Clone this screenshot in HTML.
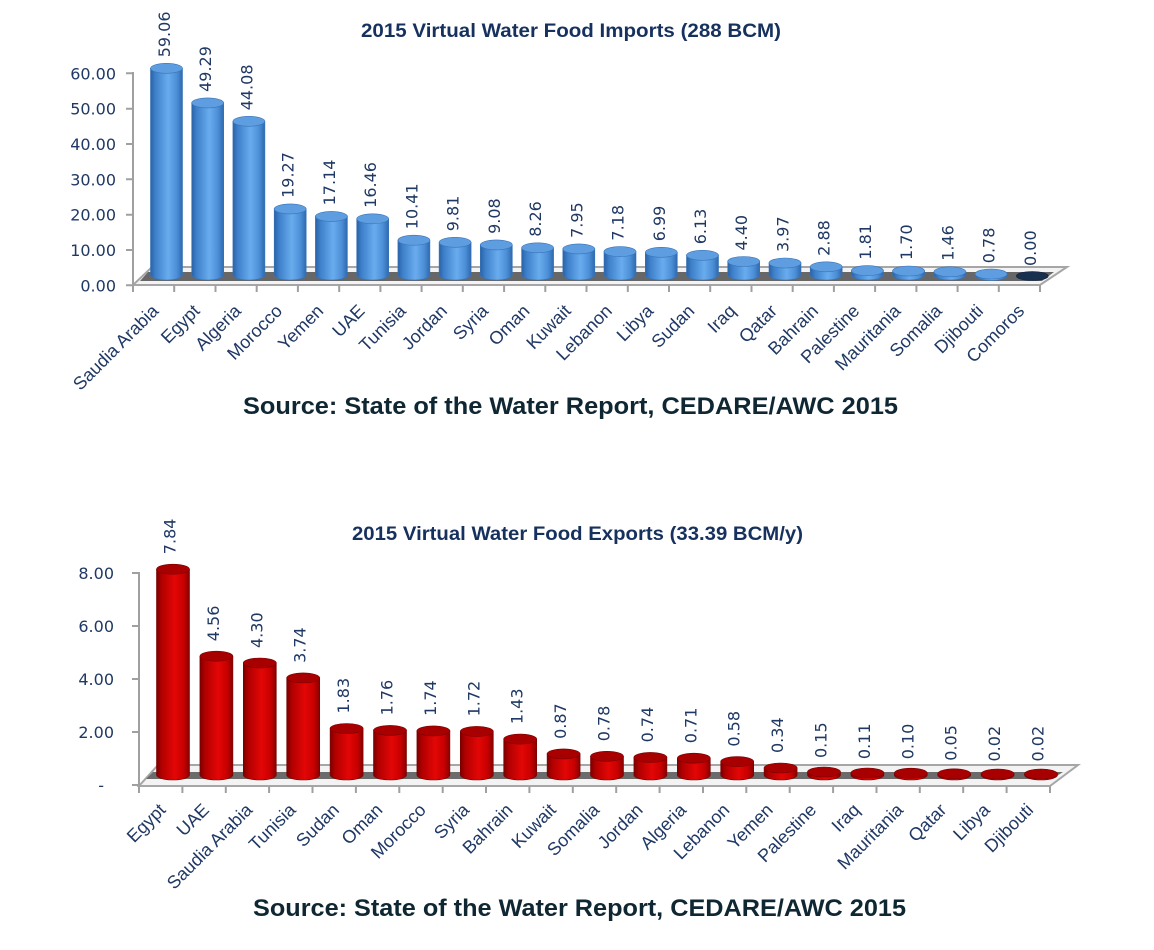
<!DOCTYPE html>
<html><head><meta charset="utf-8"><style>
html,body{margin:0;padding:0;background:#fff;}
svg{display:block;}
.ax{font-family:"DejaVu Sans",sans-serif;font-size:16px;fill:#1f3864;}
.dl{font-family:"DejaVu Sans",sans-serif;font-size:16px;fill:#1f3864;}
.cat{font-family:"Liberation Sans",sans-serif;font-size:18px;fill:#1f3864;}
.ttl{font-family:"Liberation Sans",sans-serif;font-size:19px;font-weight:bold;fill:#17315e;}
.src{font-family:"Liberation Sans",sans-serif;font-size:24px;font-weight:bold;fill:#0f2733;}
</style></head><body>
<svg width="1154" height="950" viewBox="0 0 1154 950" xmlns="http://www.w3.org/2000/svg">
<defs>
<linearGradient id="gb" x1="0" x2="1" y1="0" y2="0">
<stop offset="0" stop-color="#2a62a6"/><stop offset="0.15" stop-color="#3d7fc9"/><stop offset="0.55" stop-color="#69acee"/><stop offset="0.82" stop-color="#4c8fd7"/><stop offset="1" stop-color="#2e69ae"/>
</linearGradient>
<linearGradient id="gr" x1="0" x2="1" y1="0" y2="0">
<stop offset="0" stop-color="#7a0000"/><stop offset="0.15" stop-color="#b00000"/><stop offset="0.55" stop-color="#e30606"/><stop offset="0.82" stop-color="#c80000"/><stop offset="1" stop-color="#860000"/>
</linearGradient>
</defs>
<rect width="1154" height="950" fill="#fff"/>

<!-- ============ TOP CHART ============ -->
<text class="ttl" x="571" y="37" text-anchor="middle" textLength="420" lengthAdjust="spacingAndGlyphs">2015 Virtual Water Food Imports (288 BCM)</text>

<polygon points="133,285 1040,285 1067,267 152,267" fill="#f3f3f3" stroke="#a6a6a6" stroke-width="2"/>
<polygon points="140,281 1042,281 1054,272 148,272" fill="#676767"/>

<g stroke="#3a74b8" stroke-width="0.6">
<path d="M150.5,68.3 L150.5,275 A16,5 0 0 0 182.5,275 L182.5,68.3 Z" fill="url(#gb)"/><ellipse cx="166.5" cy="68.3" rx="16" ry="5" fill="#5d9de0"/>
<path d="M191.7,102.9 L191.7,275 A16,5 0 0 0 223.7,275 L223.7,102.9 Z" fill="url(#gb)"/><ellipse cx="207.7" cy="102.9" rx="16" ry="5" fill="#5d9de0"/>
<path d="M232.9,121.3 L232.9,275 A16,5 0 0 0 264.9,275 L264.9,121.3 Z" fill="url(#gb)"/><ellipse cx="248.9" cy="121.3" rx="16" ry="5" fill="#5d9de0"/>
<path d="M274.2,208.9 L274.2,275 A16,5 0 0 0 306.2,275 L306.2,208.9 Z" fill="url(#gb)"/><ellipse cx="290.2" cy="208.9" rx="16" ry="5" fill="#5d9de0"/>
<path d="M315.4,216.4 L315.4,275 A16,5 0 0 0 347.4,275 L347.4,216.4 Z" fill="url(#gb)"/><ellipse cx="331.4" cy="216.4" rx="16" ry="5" fill="#5d9de0"/>
<path d="M356.7,218.8 L356.7,275 A16,5 0 0 0 388.7,275 L388.7,218.8 Z" fill="url(#gb)"/><ellipse cx="372.7" cy="218.8" rx="16" ry="5" fill="#5d9de0"/>
<path d="M397.9,240.2 L397.9,275 A16,5 0 0 0 429.9,275 L429.9,240.2 Z" fill="url(#gb)"/><ellipse cx="413.9" cy="240.2" rx="16" ry="5" fill="#5d9de0"/>
<path d="M439.1,242.3 L439.1,275 A16,5 0 0 0 471.1,275 L471.1,242.3 Z" fill="url(#gb)"/><ellipse cx="455.1" cy="242.3" rx="16" ry="5" fill="#5d9de0"/>
<path d="M480.3,244.9 L480.3,275 A16,5 0 0 0 512.3,275 L512.3,244.9 Z" fill="url(#gb)"/><ellipse cx="496.3" cy="244.9" rx="16" ry="5" fill="#5d9de0"/>
<path d="M521.6,247.8 L521.6,275 A16,5 0 0 0 553.6,275 L553.6,247.8 Z" fill="url(#gb)"/><ellipse cx="537.6" cy="247.8" rx="16" ry="5" fill="#5d9de0"/>
<path d="M562.8,248.9 L562.8,275 A16,5 0 0 0 594.8,275 L594.8,248.9 Z" fill="url(#gb)"/><ellipse cx="578.8" cy="248.9" rx="16" ry="5" fill="#5d9de0"/>
<path d="M604,251.6 L604,275 A16,5 0 0 0 636,275 L636,251.6 Z" fill="url(#gb)"/><ellipse cx="620" cy="251.6" rx="16" ry="5" fill="#5d9de0"/>
<path d="M645.3,252.3 L645.3,275 A16,5 0 0 0 677.3,275 L677.3,252.3 Z" fill="url(#gb)"/><ellipse cx="661.3" cy="252.3" rx="16" ry="5" fill="#5d9de0"/>
<path d="M686.5,255.3 L686.5,275 A16,5 0 0 0 718.5,275 L718.5,255.3 Z" fill="url(#gb)"/><ellipse cx="702.5" cy="255.3" rx="16" ry="5" fill="#5d9de0"/>
<path d="M727.7,261.5 L727.7,275 A16,5 0 0 0 759.7,275 L759.7,261.5 Z" fill="url(#gb)"/><ellipse cx="743.7" cy="261.5" rx="16" ry="5" fill="#5d9de0"/>
<path d="M769,263 L769,275 A16,5 0 0 0 801,275 L801,263 Z" fill="url(#gb)"/><ellipse cx="785" cy="263" rx="16" ry="5" fill="#5d9de0"/>
<path d="M810.2,266.8 L810.2,275 A16,5 0 0 0 842.2,275 L842.2,266.8 Z" fill="url(#gb)"/><ellipse cx="826.2" cy="266.8" rx="16" ry="5" fill="#5d9de0"/>
<path d="M851.4,270.6 L851.4,275 A16,5 0 0 0 883.4,275 L883.4,270.6 Z" fill="url(#gb)"/><ellipse cx="867.4" cy="270.6" rx="16" ry="5" fill="#5d9de0"/>
<path d="M892.6,271 L892.6,275 A16,5 0 0 0 924.6,275 L924.6,271 Z" fill="url(#gb)"/><ellipse cx="908.6" cy="271" rx="16" ry="5" fill="#5d9de0"/>
<path d="M933.9,271.8 L933.9,275 A16,5 0 0 0 965.9,275 L965.9,271.8 Z" fill="url(#gb)"/><ellipse cx="949.9" cy="271.8" rx="16" ry="5" fill="#5d9de0"/>
<path d="M975.1,274 L975.1,275.5 A16,5 0 0 0 1007.1,275.5 L1007.1,274 Z" fill="url(#gb)"/><ellipse cx="991.1" cy="274" rx="16" ry="5" fill="#5d9de0"/>
<ellipse cx="1032.3" cy="276" rx="16" ry="4.5" fill="#17304f" stroke="#10243d"/>
</g>

<g stroke="#a0a0a0" stroke-width="2" fill="none">
<line x1="133" y1="72" x2="133" y2="286"/>
<path d="M126,73.3H133M126,108.7H133M126,144H133M126,179.3H133M126,214.7H133M126,250H133M126,285.3H133"/>
<path d="M133,285V292M174.2,285V292M215.5,285V292M256.7,285V292M297.9,285V292M339.2,285V292M380.4,285V292M421.6,285V292M462.8,285V292M504.1,285V292M545.3,285V292M586.5,285V292M627.8,285V292M669,285V292M710.2,285V292M751.5,285V292M792.7,285V292M833.9,285V292M875.1,285V292M916.4,285V292M957.6,285V292M998.8,285V292M1040,285V292"/>
</g>
<g class="ax" text-anchor="end">
<text x="116" y="79.3">60.00</text>
<text x="116" y="114.7">50.00</text>
<text x="116" y="150">40.00</text>
<text x="116" y="185.3">30.00</text>
<text x="116" y="220.7">20.00</text>
<text x="116" y="256">10.00</text>
<text x="116" y="291.3">0.00</text>
</g>

<g class="dl" dominant-baseline="central">
<text x="164.5" y="57.3" transform="rotate(-90 164.5 57.3)">59.06</text>
<text x="205.7" y="91.9" transform="rotate(-90 205.7 91.9)">49.29</text>
<text x="246.9" y="110.3" transform="rotate(-90 246.9 110.3)">44.08</text>
<text x="288.2" y="197.9" transform="rotate(-90 288.2 197.9)">19.27</text>
<text x="329.4" y="205.4" transform="rotate(-90 329.4 205.4)">17.14</text>
<text x="370.7" y="207.8" transform="rotate(-90 370.7 207.8)">16.46</text>
<text x="411.9" y="229.2" transform="rotate(-90 411.9 229.2)">10.41</text>
<text x="453.1" y="231.3" transform="rotate(-90 453.1 231.3)">9.81</text>
<text x="494.3" y="233.9" transform="rotate(-90 494.3 233.9)">9.08</text>
<text x="535.6" y="236.8" transform="rotate(-90 535.6 236.8)">8.26</text>
<text x="576.8" y="237.9" transform="rotate(-90 576.8 237.9)">7.95</text>
<text x="618" y="240.6" transform="rotate(-90 618 240.6)">7.18</text>
<text x="659.3" y="241.3" transform="rotate(-90 659.3 241.3)">6.99</text>
<text x="700.5" y="244.3" transform="rotate(-90 700.5 244.3)">6.13</text>
<text x="741.7" y="250.5" transform="rotate(-90 741.7 250.5)">4.40</text>
<text x="783" y="252" transform="rotate(-90 783 252)">3.97</text>
<text x="824.2" y="255.8" transform="rotate(-90 824.2 255.8)">2.88</text>
<text x="865.4" y="259.6" transform="rotate(-90 865.4 259.6)">1.81</text>
<text x="906.6" y="260" transform="rotate(-90 906.6 260)">1.70</text>
<text x="947.9" y="260.8" transform="rotate(-90 947.9 260.8)">1.46</text>
<text x="989.1" y="263.2" transform="rotate(-90 989.1 263.2)">0.78</text>
<text x="1030.3" y="266" transform="rotate(-90 1030.3 266)">0.00</text>
</g>

<g class="cat" text-anchor="end">
<text x="159.6" y="312" transform="rotate(-45 159.6 312)">Saudia Arabia</text>
<text x="200.8" y="312" transform="rotate(-45 200.8 312)">Egypt</text>
<text x="242.1" y="312" transform="rotate(-45 242.1 312)">Algeria</text>
<text x="283.3" y="312" transform="rotate(-45 283.3 312)">Morocco</text>
<text x="324.5" y="312" transform="rotate(-45 324.5 312)">Yemen</text>
<text x="365.8" y="312" transform="rotate(-45 365.8 312)">UAE</text>
<text x="407" y="312" transform="rotate(-45 407 312)">Tunisia</text>
<text x="448.2" y="312" transform="rotate(-45 448.2 312)">Jordan</text>
<text x="489.4" y="312" transform="rotate(-45 489.4 312)">Syria</text>
<text x="530.7" y="312" transform="rotate(-45 530.7 312)">Oman</text>
<text x="571.9" y="312" transform="rotate(-45 571.9 312)">Kuwait</text>
<text x="613.1" y="312" transform="rotate(-45 613.1 312)">Lebanon</text>
<text x="654.4" y="312" transform="rotate(-45 654.4 312)">Libya</text>
<text x="695.6" y="312" transform="rotate(-45 695.6 312)">Sudan</text>
<text x="736.8" y="312" transform="rotate(-45 736.8 312)">Iraq</text>
<text x="778.1" y="312" transform="rotate(-45 778.1 312)">Qatar</text>
<text x="819.3" y="312" transform="rotate(-45 819.3 312)">Bahrain</text>
<text x="860.5" y="312" transform="rotate(-45 860.5 312)">Palestine</text>
<text x="901.7" y="312" transform="rotate(-45 901.7 312)">Mauritania</text>
<text x="943" y="312" transform="rotate(-45 943 312)">Somalia</text>
<text x="984.2" y="312" transform="rotate(-45 984.2 312)">Djibouti</text>
<text x="1025.4" y="312" transform="rotate(-45 1025.4 312)">Comoros</text>
</g>

<text class="src" x="570.5" y="414" text-anchor="middle" textLength="655" lengthAdjust="spacingAndGlyphs">Source: State of the Water Report, CEDARE/AWC 2015</text>

<!-- ============ BOTTOM CHART ============ -->
<text class="ttl" x="577.5" y="540" text-anchor="middle" textLength="451" lengthAdjust="spacingAndGlyphs">2015 Virtual Water Food Exports (33.39 BCM/y)</text>

<polygon points="139,786 1050,786 1078,765 158,765" fill="#f3f3f3" stroke="#a6a6a6" stroke-width="2"/>
<polygon points="146,779 1052,779 1063,772 153,772" fill="#6b6b6b"/>

<g stroke="#7a0000" stroke-width="0.6">
<path d="M156.5,569.2 L156.5,775 A16.5,5 0 0 0 189.5,775 L189.5,569.2 Z" fill="url(#gr)"/><ellipse cx="173" cy="569.2" rx="16.5" ry="5" fill="#a80000"/>
<path d="M199.9,656.2 L199.9,775 A16.5,5 0 0 0 232.9,775 L232.9,656.2 Z" fill="url(#gr)"/><ellipse cx="216.4" cy="656.2" rx="16.5" ry="5" fill="#a80000"/>
<path d="M243.3,663 L243.3,775 A16.5,5 0 0 0 276.3,775 L276.3,663 Z" fill="url(#gr)"/><ellipse cx="259.8" cy="663" rx="16.5" ry="5" fill="#a80000"/>
<path d="M286.7,677.9 L286.7,775 A16.5,5 0 0 0 319.7,775 L319.7,677.9 Z" fill="url(#gr)"/><ellipse cx="303.2" cy="677.9" rx="16.5" ry="5" fill="#a80000"/>
<path d="M330.1,728.5 L330.1,775 A16.5,5 0 0 0 363.1,775 L363.1,728.5 Z" fill="url(#gr)"/><ellipse cx="346.6" cy="728.5" rx="16.5" ry="5" fill="#a80000"/>
<path d="M373.5,730.4 L373.5,775 A16.5,5 0 0 0 406.5,775 L406.5,730.4 Z" fill="url(#gr)"/><ellipse cx="390" cy="730.4" rx="16.5" ry="5" fill="#a80000"/>
<path d="M416.9,730.9 L416.9,775 A16.5,5 0 0 0 449.9,775 L449.9,730.9 Z" fill="url(#gr)"/><ellipse cx="433.4" cy="730.9" rx="16.5" ry="5" fill="#a80000"/>
<path d="M460.3,731.4 L460.3,775 A16.5,5 0 0 0 493.3,775 L493.3,731.4 Z" fill="url(#gr)"/><ellipse cx="476.8" cy="731.4" rx="16.5" ry="5" fill="#a80000"/>
<path d="M503.7,739.1 L503.7,775 A16.5,5 0 0 0 536.7,775 L536.7,739.1 Z" fill="url(#gr)"/><ellipse cx="520.2" cy="739.1" rx="16.5" ry="5" fill="#a80000"/>
<path d="M547.1,753.9 L547.1,775 A16.5,5 0 0 0 580.1,775 L580.1,753.9 Z" fill="url(#gr)"/><ellipse cx="563.6" cy="753.9" rx="16.5" ry="5" fill="#a80000"/>
<path d="M590.5,756.3 L590.5,775 A16.5,5 0 0 0 623.5,775 L623.5,756.3 Z" fill="url(#gr)"/><ellipse cx="607" cy="756.3" rx="16.5" ry="5" fill="#a80000"/>
<path d="M633.9,757.4 L633.9,775 A16.5,5 0 0 0 666.9,775 L666.9,757.4 Z" fill="url(#gr)"/><ellipse cx="650.4" cy="757.4" rx="16.5" ry="5" fill="#a80000"/>
<path d="M677.3,758.2 L677.3,775 A16.5,5 0 0 0 710.3,775 L710.3,758.2 Z" fill="url(#gr)"/><ellipse cx="693.8" cy="758.2" rx="16.5" ry="5" fill="#a80000"/>
<path d="M720.7,761.6 L720.7,775 A16.5,5 0 0 0 753.7,775 L753.7,761.6 Z" fill="url(#gr)"/><ellipse cx="737.2" cy="761.6" rx="16.5" ry="5" fill="#a80000"/>
<path d="M764.1,768 L764.1,775 A16.5,5 0 0 0 797.1,775 L797.1,768 Z" fill="url(#gr)"/><ellipse cx="780.6" cy="768" rx="16.5" ry="5" fill="#a80000"/>
<path d="M807.5,772 L807.5,775 A16.5,5 0 0 0 840.5,775 L840.5,772 Z" fill="url(#gr)"/><ellipse cx="824" cy="772" rx="16.5" ry="5" fill="#a80000"/>
<path d="M850.9,773 L850.9,775 A16.5,5 0 0 0 883.9,775 L883.9,773 Z" fill="url(#gr)"/><ellipse cx="867.4" cy="773" rx="16.5" ry="5" fill="#a80000"/>
<path d="M894.3,773.2 L894.3,775 A16.5,5 0 0 0 927.3,775 L927.3,773.2 Z" fill="url(#gr)"/><ellipse cx="910.8" cy="773.2" rx="16.5" ry="5" fill="#a80000"/>
<path d="M937.7,773.8 L937.7,775 A16.5,5 0 0 0 970.7,775 L970.7,773.8 Z" fill="url(#gr)"/><ellipse cx="954.2" cy="773.8" rx="16.5" ry="5" fill="#a80000"/>
<path d="M981.1,774 L981.1,775 A16.5,5 0 0 0 1014.1,775 L1014.1,774 Z" fill="url(#gr)"/><ellipse cx="997.6" cy="774" rx="16.5" ry="5" fill="#a80000"/>
<path d="M1024.5,774 L1024.5,775 A16.5,5 0 0 0 1057.5,775 L1057.5,774 Z" fill="url(#gr)"/><ellipse cx="1041" cy="774" rx="16.5" ry="5" fill="#a80000"/>
</g>

<g stroke="#a0a0a0" stroke-width="2" fill="none">
<line x1="139" y1="572" x2="139" y2="786"/>
<path d="M132,573H139M132,626H139M132,679H139M132,732H139M132,785H139"/>
<path d="M139,786V793M182.4,786V793M225.8,786V793M269.1,786V793M312.5,786V793M355.9,786V793M399.3,786V793M442.7,786V793M486,786V793M529.4,786V793M572.8,786V793M616.2,786V793M659.6,786V793M703,786V793M746.3,786V793M789.7,786V793M833.1,786V793M876.5,786V793M919.8,786V793M963.2,786V793M1006.6,786V793M1050,786V793"/>
</g>
<g class="ax" text-anchor="end">
<text x="114" y="579">8.00</text>
<text x="114" y="632">6.00</text>
<text x="114" y="685">4.00</text>
<text x="114" y="738">2.00</text>
<text x="104" y="791">-</text>
</g>

<g class="dl" dominant-baseline="central">
<text x="170" y="554.2" transform="rotate(-90 170 554.2)">7.84</text>
<text x="213.4" y="641.2" transform="rotate(-90 213.4 641.2)">4.56</text>
<text x="256.8" y="648" transform="rotate(-90 256.8 648)">4.30</text>
<text x="300.2" y="662.9" transform="rotate(-90 300.2 662.9)">3.74</text>
<text x="343.6" y="713.5" transform="rotate(-90 343.6 713.5)">1.83</text>
<text x="387" y="715.4" transform="rotate(-90 387 715.4)">1.76</text>
<text x="430.4" y="715.9" transform="rotate(-90 430.4 715.9)">1.74</text>
<text x="473.8" y="716.4" transform="rotate(-90 473.8 716.4)">1.72</text>
<text x="517.2" y="724.1" transform="rotate(-90 517.2 724.1)">1.43</text>
<text x="560.6" y="738.9" transform="rotate(-90 560.6 738.9)">0.87</text>
<text x="604" y="741.3" transform="rotate(-90 604 741.3)">0.78</text>
<text x="647.4" y="742.4" transform="rotate(-90 647.4 742.4)">0.74</text>
<text x="690.8" y="743.2" transform="rotate(-90 690.8 743.2)">0.71</text>
<text x="734.2" y="746.6" transform="rotate(-90 734.2 746.6)">0.58</text>
<text x="777.6" y="753" transform="rotate(-90 777.6 753)">0.34</text>
<text x="821" y="758" transform="rotate(-90 821 758)">0.15</text>
<text x="864.4" y="759.1" transform="rotate(-90 864.4 759.1)">0.11</text>
<text x="907.8" y="759.3" transform="rotate(-90 907.8 759.3)">0.10</text>
<text x="951.2" y="760.7" transform="rotate(-90 951.2 760.7)">0.05</text>
<text x="994.6" y="761.5" transform="rotate(-90 994.6 761.5)">0.02</text>
<text x="1038" y="761.5" transform="rotate(-90 1038 761.5)">0.02</text>
</g>

<g class="cat" text-anchor="end">
<text x="166.7" y="811" transform="rotate(-45 166.7 811)">Egypt</text>
<text x="210.1" y="811" transform="rotate(-45 210.1 811)">UAE</text>
<text x="253.5" y="811" transform="rotate(-45 253.5 811)">Saudia Arabia</text>
<text x="296.8" y="811" transform="rotate(-45 296.8 811)">Tunisia</text>
<text x="340.2" y="811" transform="rotate(-45 340.2 811)">Sudan</text>
<text x="383.6" y="811" transform="rotate(-45 383.6 811)">Oman</text>
<text x="427" y="811" transform="rotate(-45 427 811)">Morocco</text>
<text x="470.4" y="811" transform="rotate(-45 470.4 811)">Syria</text>
<text x="513.7" y="811" transform="rotate(-45 513.7 811)">Bahrain</text>
<text x="557.1" y="811" transform="rotate(-45 557.1 811)">Kuwait</text>
<text x="600.5" y="811" transform="rotate(-45 600.5 811)">Somalia</text>
<text x="643.9" y="811" transform="rotate(-45 643.9 811)">Jordan</text>
<text x="687.3" y="811" transform="rotate(-45 687.3 811)">Algeria</text>
<text x="730.6" y="811" transform="rotate(-45 730.6 811)">Lebanon</text>
<text x="774" y="811" transform="rotate(-45 774 811)">Yemen</text>
<text x="817.4" y="811" transform="rotate(-45 817.4 811)">Palestine</text>
<text x="860.8" y="811" transform="rotate(-45 860.8 811)">Iraq</text>
<text x="904.2" y="811" transform="rotate(-45 904.2 811)">Mauritania</text>
<text x="947.5" y="811" transform="rotate(-45 947.5 811)">Qatar</text>
<text x="990.9" y="811" transform="rotate(-45 990.9 811)">Libya</text>
<text x="1034.3" y="811" transform="rotate(-45 1034.3 811)">Djibouti</text>
</g>

<text class="src" x="579.5" y="916" text-anchor="middle" textLength="653" lengthAdjust="spacingAndGlyphs">Source: State of the Water Report, CEDARE/AWC 2015</text>
</svg>
</body></html>
